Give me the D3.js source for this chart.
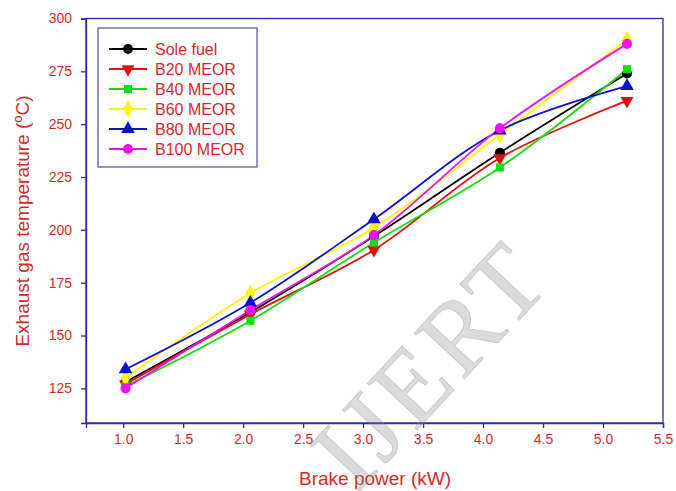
<!DOCTYPE html>
<html lang="en">
<meta charset="utf-8">
<style>
  body { margin: 0; background: #fff; }
  svg { font-family: Arial, "Liberation Sans", sans-serif; }
  .axis path, .axis line { stroke: #2a2aaa; stroke-width: 1.3px; }
  .axis text { fill: #d42a2a; font-size: 14px; }
</style>
<script src="https://d3js.org/d3.v7.min.js"></script>
<body>
<div id="chart"></div>
<script>
// brake power (kW)
const power = [1.02, 2.06, 3.09, 4.14, 5.2]

// exhaust gas temperature (°C)
const soleFuel = [128, 161, 197, 236.5, 274]
const b20 = [127, 160, 190.5, 234, 261]
const b40 = [126, 157, 194, 229.5, 276]
const b60 = [130, 170, 201, 245, 290]
const b80 = [134, 165.5, 205, 247, 268]
const b100 = [125, 162, 197.5, 248, 288]

const xTicks = [1.0, 1.5, 2.0, 2.5, 3.0, 3.5, 4.0, 4.5, 5.0, 5.5]
const yTicks = [125, 150, 175, 200, 225, 250, 275, 300]

const series = [
  { name: "Sole fuel", values: soleFuel, color: "#000000", symbol: d3.symbolCircle },
  { name: "B20 MEOR", values: b20, color: "#e01010", symbol: "down" },
  { name: "B40 MEOR", values: b40, color: "#10e010", symbol: d3.symbolSquare },
  { name: "B60 MEOR", values: b60, color: "#f8f800", symbol: d3.symbolDiamond },
  { name: "B80 MEOR", values: b80, color: "#1010c8", symbol: d3.symbolTriangle },
  { name: "B100 MEOR", values: b100, color: "#f010f0", symbol: d3.symbolCircle }
]

const W = 676, H = 491
const L = 86, R = 663, T = 18.5, B = 423

const svg = d3.select("#chart").append("svg")
  .attr("width", W).attr("height", H)

const x = d3.scaleLinear().domain([0.69, 5.5]).range([L, R])
const y = d3.scaleLinear().domain([108.6, 300]).range([B, T])

// frame
svg.append("rect")
  .attr("x", L).attr("y", T)
  .attr("width", R - L).attr("height", B - T)
  .attr("fill", "none").attr("stroke", "#2a2aaa").attr("stroke-width", 1.3)

svg.append("g").attr("class", "axis")
  .attr("transform", `translate(0,${B})`)
  .call(d3.axisBottom(x).tickValues(xTicks).tickFormat(d3.format(".1f")).tickSize(5).tickPadding(6))

svg.append("g").attr("class", "axis")
  .attr("transform", `translate(${L},0)`)
  .call(d3.axisLeft(y).tickValues(yTicks).tickSize(5).tickPadding(9))

// axis titles
svg.append("text")
  .attr("x", 375).attr("y", 485)
  .attr("text-anchor", "middle")
  .attr("fill", "#d42a2a").attr("font-size", "19px")
  .text("Brake power (kW)")

const yt = svg.append("text")
  .attr("transform", "translate(29,221) rotate(-90)")
  .attr("text-anchor", "middle")
  .attr("fill", "#d42a2a").attr("font-size", "19px")
yt.append("tspan").text("Exhaust gas temperature (")
yt.append("tspan").attr("dy", -7).attr("font-size", "13px").text("o")
yt.append("tspan").attr("dy", 7).text("C)")

const line = d3.line()
  .x((d, i) => x(power[i]))
  .y(d => y(d))
  .curve(d3.curveCatmullRom)

function marker(s) {
  if (s.symbol === "down") {
    return d3.symbol().type(d3.symbolTriangle).size(75)()
  }
  const size = s.symbol === d3.symbolDiamond ? 85 : s.symbol === d3.symbolSquare ? 65 : 80
  return d3.symbol().type(s.symbol).size(size)()
}

const plot = svg.append("g")

series.forEach(s => {
  plot.append("path")
    .attr("d", line(s.values))
    .attr("fill", "none")
    .attr("stroke", s.color)
    .attr("stroke-width", 1.8)
})

series.forEach(s => {
  plot.selectAll(null)
    .data(s.values)
    .enter().append("path")
    .attr("d", marker(s))
    .attr("transform", (d, i) => `translate(${x(power[i])},${y(d)})` + (s.symbol === "down" ? " rotate(180)" : ""))
    .attr("fill", s.color)
})

// legend
const lg = svg.append("g")
lg.append("rect")
  .attr("x", 98).attr("y", 28).attr("width", 159).attr("height", 139)
  .attr("fill", "#fff").attr("stroke", "#5a5ab8").attr("stroke-width", 1.3)

series.forEach((s, i) => {
  const cy = 49 + i * 20
  lg.append("line")
    .attr("x1", 109).attr("x2", 147).attr("y1", cy).attr("y2", cy)
    .attr("stroke", s.color).attr("stroke-width", 1.8)
  lg.append("path")
    .attr("d", marker(s))
    .attr("transform", `translate(128,${cy})` + (s.symbol === "down" ? " rotate(180)" : ""))
    .attr("fill", s.color)
  lg.append("text")
    .attr("x", 155).attr("y", cy + 6)
    .attr("fill", "#d42a2a").attr("font-size", "16px")
    .text(s.name)
})

// watermark
svg.append("text")
  .attr("transform", "translate(456,388) rotate(-47)")
  .attr("text-anchor", "middle")
  .attr("font-size", "104px")
  .attr("letter-spacing", "5px")
  .attr("font-family", "'Liberation Serif', serif")
  .attr("fill", "#888").attr("fill-opacity", 0.3)
  .attr("stroke", "#888").attr("stroke-opacity", 0.3)
  .text("IJERT")
</script>
</body>
</html>
